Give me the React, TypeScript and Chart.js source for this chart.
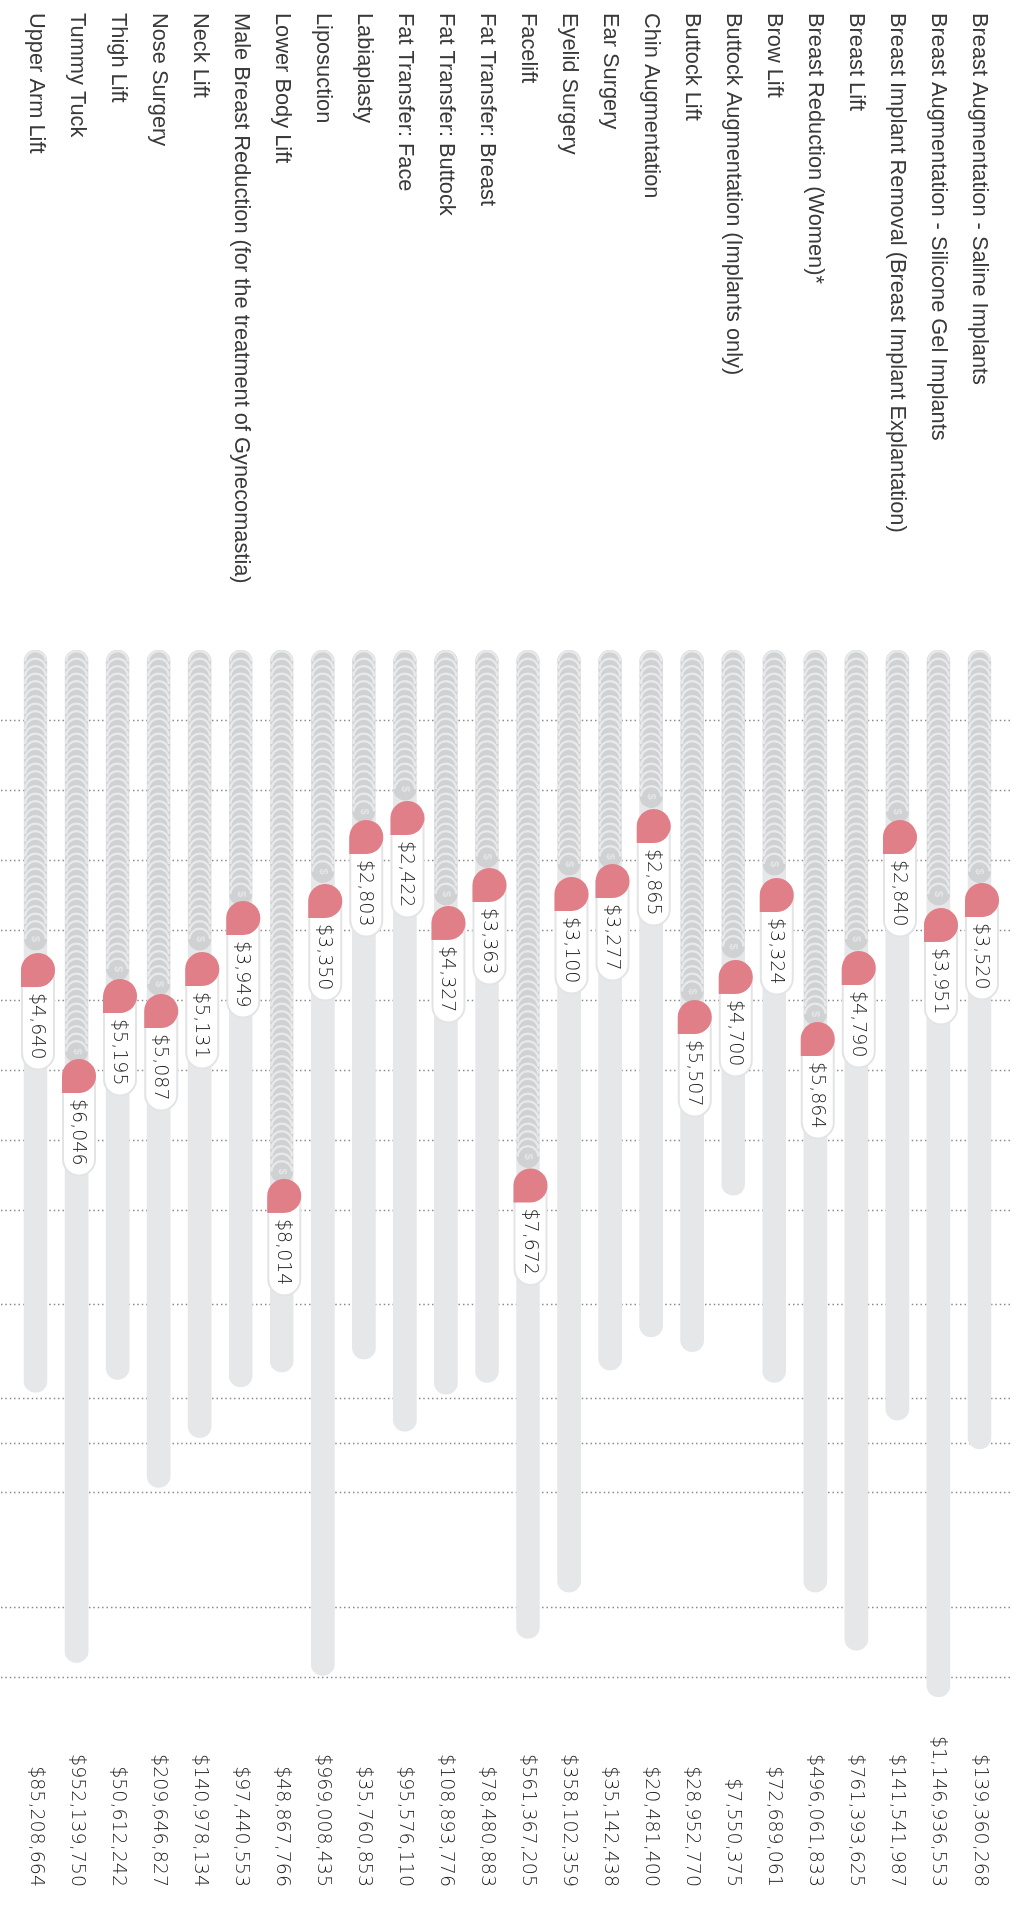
import React, { useEffect, useRef } from "react";
import { Chart, registerables } from "chart.js";

Chart.register(...registerables);

// ---- data (top row of the horizontal chart first) ----
const procedures = [
  "Breast Augmentation - Saline Implants",
  "Breast Augmentation - Silicone Gel Implants",
  "Breast Implant Removal (Breast Implant Explantation)",
  "Breast Lift",
  "Breast Reduction (Women)*",
  "Brow Lift",
  "Buttock Augmentation (Implants only)",
  "Buttock Lift",
  "Chin Augmentation",
  "Ear Surgery",
  "Eyelid Surgery",
  "Facelift",
  "Fat Transfer: Breast",
  "Fat Transfer: Buttock",
  "Fat Transfer: Face",
  "Labiaplasty",
  "Liposuction",
  "Lower Body Lift",
  "Male Breast Reduction (for the treatment of Gynecomastia)",
  "Neck Lift",
  "Nose Surgery",
  "Thigh Lift",
  "Tummy Tuck",
  "Upper Arm Lift",
];

const prices = [
  3520, 3951, 2840, 4790, 5864, 3324, 4700, 5507, 2865, 3277, 3100, 7672,
  3363, 4327, 2422, 2803, 3350, 8014, 3949, 5131, 5087, 5195, 6046, 4640,
];

const totals = [
  139360268, 1146936553, 141541987, 761393625, 496061833, 72689061, 7550375,
  28952770, 20481400, 35142438, 358102359, 561367205, 78480883, 108893776,
  95576110, 35760853, 969008435, 48867766, 97440553, 140978134, 209646827,
  50612242, 952139750, 85208664,
];

// height reached by each coin stack (price-axis units)
const stackValues = [
  3812, 4169, 2913, 4783, 5797, 3741, 4911, 5483, 2756, 3541, 3726, 7888,
  3598, 4140, 2641, 2913, 3826, 8037, 4069, 4797, 5397, 5183, 6325, 4812,
];

// length of each grey track (same axis units)
const trackValues = [
  11406, 14946, 10995, 14281, 13451, 10456, 7783, 10017, 9806, 10281, 13451,
  14111, 10456, 10625, 11154, 10123, 14639, 10308, 10520, 11244, 11956, 10414,
  14455, 10598,
];

// dotted guide lines (axis units)
const gridValues = [
  1000, 2000, 3000, 4000, 5000, 6000, 7000, 8000, 9331, 10678, 11328, 12019,
  13663, 14666,
];

const fmt = (n: number) => "$" + n.toLocaleString("en-US");

const W = 1912;
const H = 1021;
const NUM_FAMILY = "'DejaVu Sans', sans-serif";
const NUM_SIZE = 19;
const NUM_WEIGHT = "200";
const NUM_COLOR = "#1e1e1e";
const PINK = "#e07f88";
const TRACK = "#e6e7e8";

const decorPlugin = {
  id: "decor",
  beforeDatasetsDraw(chart: any) {
    const { ctx } = chart;
    const xs = chart.scales.x;
    ctx.save();
    ctx.strokeStyle = "#8a8a8a";
    ctx.lineWidth = 1.5;
    ctx.setLineDash([1.5, 2.9]);
    for (const v of gridValues) {
      const x = Math.round(xs.getPixelForValue(v)) + 0.5;
      ctx.beginPath();
      ctx.moveTo(x, 11);
      ctx.lineTo(x, chart.height);
      ctx.stroke();
    }
    ctx.restore();
  },
  afterDatasetsDraw(chart: any) {
    const { ctx } = chart;
    const xs = chart.scales.x;
    const ys = chart.scales.y;
    const r = 11.5;
    const step = 7.5;
    ctx.save();
    stackValues.forEach((v, i) => {
      const cy = ys.getPixelForValue(i);
      const x0 = xs.getPixelForValue(0) + r;
      const vx = xs.getPixelForValue(v);
      const xEnd = vx - 41;
      const centers: number[] = [];
      for (let x = x0; x <= xEnd + 0.01; x += step) centers.push(x);
      centers.forEach((cx) => {
        ctx.beginPath();
        ctx.arc(cx, cy, r, 0, Math.PI * 2);
        ctx.fillStyle = "#d0d1d3";
        ctx.fill();
        ctx.beginPath();
        ctx.arc(cx, cy, r - 1.2, Math.PI * 0.5, Math.PI * 1.5);
        ctx.strokeStyle = "#e8e9ea";
        ctx.lineWidth = 2.2;
        ctx.stroke();
      });
      if (centers.length) {
        const lx = centers[centers.length - 1];
        ctx.fillStyle = "#e3e4e6";
        ctx.font = "bold 11px 'Liberation Sans', sans-serif";
        ctx.textAlign = "center";
        ctx.textBaseline = "middle";
        ctx.fillText("$", lx, cy);
      }

      const mc = cy - 2.5;
      const mTop = mc - 17;
      const text = fmt(prices[i]);
      ctx.font = `${NUM_WEIGHT} ${NUM_SIZE}px ${NUM_FAMILY}`;
      const tw = ctx.measureText(text).width;
      const pillL = vx - 17;
      const pillR = vx + 6 + tw + 10;
      ctx.beginPath();
      ctx.roundRect(pillL, mc - 16, pillR - pillL, 32, [0, 16, 16, 0]);
      ctx.fillStyle = "#ffffff";
      ctx.fill();
      ctx.lineWidth = 2;
      ctx.strokeStyle = "#e3e4e6";
      ctx.stroke();

      ctx.beginPath();
      ctx.roundRect(vx - 34, mTop, 34, 34, [17, 17, 0, 17]);
      ctx.fillStyle = PINK;
      ctx.fill();

      ctx.fillStyle = NUM_COLOR;
      ctx.textAlign = "left";
      ctx.textBaseline = "middle";
      ctx.fillText(text, vx + 6, mc + 1);
    });
    ctx.restore();
  },
};

export default function App() {
  const ref = useRef<HTMLCanvasElement | null>(null);

  useEffect(() => {
    if (!ref.current) return;
    const chart = new Chart(ref.current, {
      type: "bar",
      data: {
        labels: procedures,
        datasets: [
          {
            data: trackValues,
            backgroundColor: TRACK,
            barThickness: 23,
            borderRadius: 12,
            borderSkipped: false,
          },
        ],
      },
      options: {
        indexAxis: "y",
        animation: false,
        responsive: false,
        devicePixelRatio: 1,
        layout: { padding: { left: 13, right: 25, top: 21, bottom: 15 } },
        plugins: { legend: { display: false }, tooltip: { enabled: false } },
        scales: {
          x: {
            type: "linear",
            min: 0,
            max: 15000,
            position: "bottom",
            grid: { display: false, drawTicks: false },
            border: { display: false },
            ticks: { display: false },
            afterFit: (s: any) => {
              s.height = 0;
            },
          },
          y: {
            type: "category",
            position: "left",
            offset: true,
            grid: { display: false, drawTicks: false },
            border: { display: false },
            ticks: {
              autoSkip: false,
              crossAlign: "far",
              padding: 0,
              color: "#3a3a3a",
              font: { family: "'Liberation Sans', Arial, sans-serif", size: 21.8 },
            },
            afterFit: (s: any) => {
              s.width = 637;
            },
          },
          y2: {
            type: "category",
            labels: totals.map(fmt),
            position: "right",
            offset: true,
            grid: { display: false, drawTicks: false },
            border: { display: false },
            ticks: {
              autoSkip: false,
              crossAlign: "far",
              padding: 0,
              color: NUM_COLOR,
              font: { family: NUM_FAMILY, size: NUM_SIZE, weight: NUM_WEIGHT as any },
            },
            afterFit: (s: any) => {
              s.width = 186.4;
            },
          },
        },
      } as any,
      plugins: [decorPlugin],
    });
    return () => chart.destroy();
  }, []);

  return (
    <div
      style={{
        position: "fixed",
        left: 0,
        top: 0,
        width: H,
        height: W,
        overflow: "hidden",
        background: "#ffffff",
      }}
    >
      <div
        style={{
          position: "absolute",
          left: 0,
          top: 0,
          width: W,
          height: H,
          transformOrigin: "0 0",
          transform: `translate(${H}px, 0px) rotate(90deg)`,
        }}
      >
        <canvas ref={ref} width={W} height={H} style={{ display: "block" }} />
      </div>
    </div>
  );
}
